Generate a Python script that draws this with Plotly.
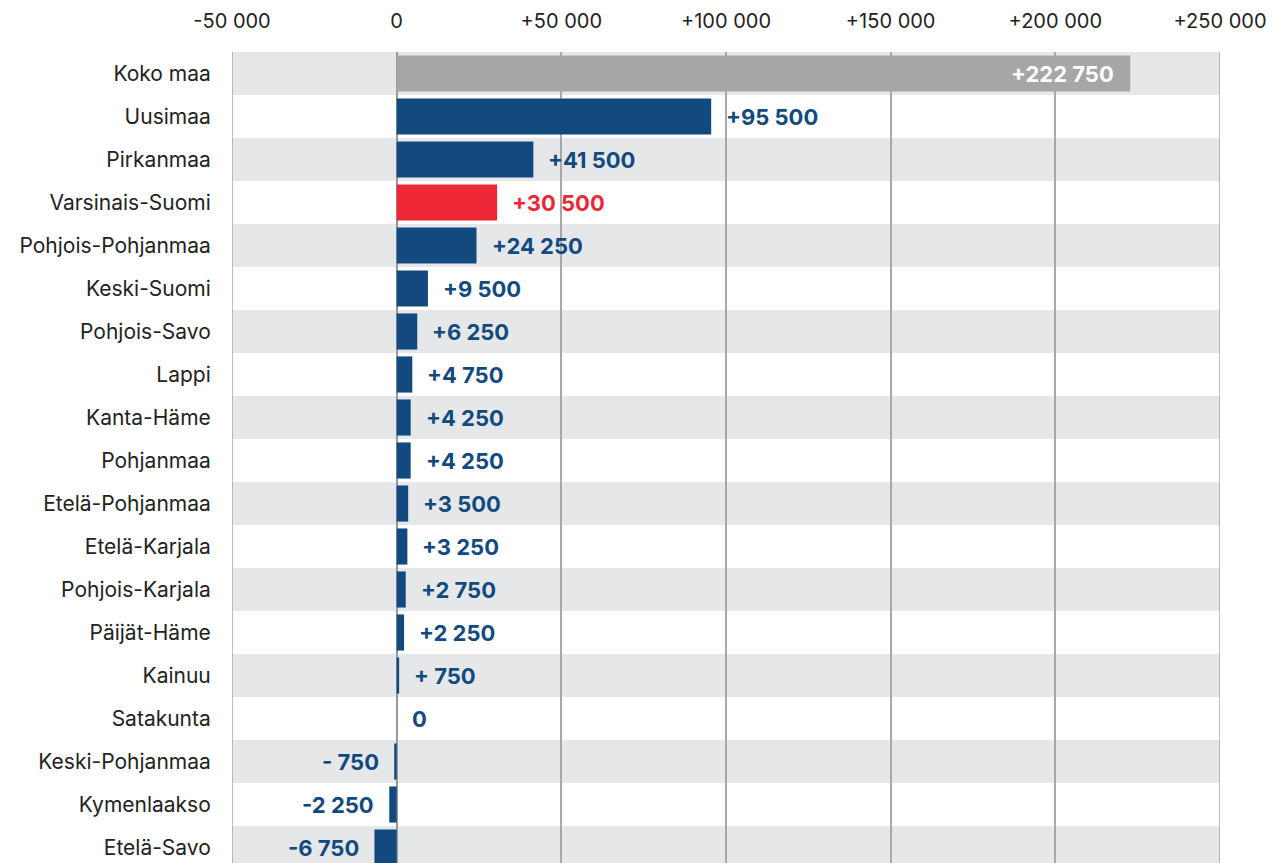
import plotly.graph_objects as go

regions = ["Koko maa", "Uusimaa", "Pirkanmaa", "Varsinais-Suomi", "Pohjois-Pohjanmaa",
           "Keski-Suomi", "Pohjois-Savo", "Lappi", "Kanta-Häme", "Pohjanmaa",
           "Etelä-Pohjanmaa", "Etelä-Karjala", "Pohjois-Karjala", "Päijät-Häme",
           "Kainuu", "Satakunta", "Keski-Pohjanmaa", "Kymenlaakso", "Etelä-Savo"]
values = [222750, 95500, 41500, 30500, 24250, 9500, 6250, 4750, 4250, 4250,
          3500, 3250, 2750, 2250, 750, 0, -750, -2250, -6750]
tick_vals = [-50000, 0, 50000, 100000, 150000, 200000, 250000]
tick_text = ["-50 000", "0", "+50 000", "+100 000", "+150 000", "+200 000", "+250 000"]

BLUE = "#124a80"
GRAY = "#a6a6a6"
RED = "#ee2737"
BAND = "#e6e7e9"
GRID = "#a8a8a8"

def fmt(v):
    if v == 0:
        return "0"
    s = f"{abs(v):,}".replace(",", " ")
    sign = "+" if v > 0 else "-"
    if abs(v) < 1000:
        return sign + " " + s
    return sign + s

colors = []
for r in regions:
    if r == "Koko maa":
        colors.append(GRAY)
    elif r == "Varsinais-Suomi":
        colors.append(RED)
    else:
        colors.append(BLUE)

ypos = list(range(len(regions)))

fig = go.Figure()
fig.add_trace(go.Bar(
    x=values, y=ypos, orientation="h", marker=dict(color=colors, line=dict(width=0)),
    width=0.84, hoverinfo="skip"))

shapes = []
for i in range(len(regions)):
    if i % 2 == 0:
        shapes.append(dict(type="rect", xref="paper", yref="y", x0=0, x1=1,
                           y0=i - 0.5, y1=i + 0.5, fillcolor=BAND,
                           line=dict(width=0), layer="between"))
for xv in (tick_vals[0], tick_vals[-1]):
    shapes.append(dict(type="line", xref="x", yref="paper", x0=xv, x1=xv, y0=0, y1=1,
                       line=dict(color=GRID, width=1.5), layer="between"))

annotations = []
for i, (r, v) in enumerate(zip(regions, values)):
    if r == "Koko maa":
        annotations.append(dict(x=v, y=i, text=f"<b>{fmt(v)}</b>", showarrow=False,
                                xanchor="right", xshift=-14,
                                font=dict(color="white", size=22)))
    else:
        col = RED if r == "Varsinais-Suomi" else BLUE
        if v >= 0:
            annotations.append(dict(x=v, y=i, text=f"<b>{fmt(v)}</b>", showarrow=False,
                                    xanchor="left", xshift=13,
                                    font=dict(color=col, size=22)))
        else:
            annotations.append(dict(x=v, y=i, text=f"<b>{fmt(v)}</b>", showarrow=False,
                                    xanchor="right", xshift=-13,
                                    font=dict(color=col, size=22)))

fig.update_layout(
    width=1278, height=863,
    margin=dict(l=224, r=66, t=44, b=8),
    plot_bgcolor="white", paper_bgcolor="white",
    font=dict(family="Inter", size=20, color="#222222"),
    showlegend=False,
    shapes=shapes, annotations=annotations,
    xaxis=dict(side="top", range=[-50000, 250000], tickvals=tick_vals, ticktext=tick_text,
               showgrid=True, gridcolor=GRID, gridwidth=1.5,
               zeroline=True, zerolinecolor="#999999", zerolinewidth=1.6,
               ticks="outside", ticklen=15, tickcolor="rgba(0,0,0,0)",
               tickfont=dict(size=20, color="#222222"), fixedrange=True,
               automargin=False),
    yaxis=dict(range=[18.36, -0.5], tickvals=ypos, ticktext=regions,
               showgrid=False, zeroline=False,
               ticks="outside", ticklen=16, tickcolor="rgba(0,0,0,0)",
               tickfont=dict(size=21, color="#222222"), fixedrange=True,
               automargin=False),
)

fig.write_html("out.html")
